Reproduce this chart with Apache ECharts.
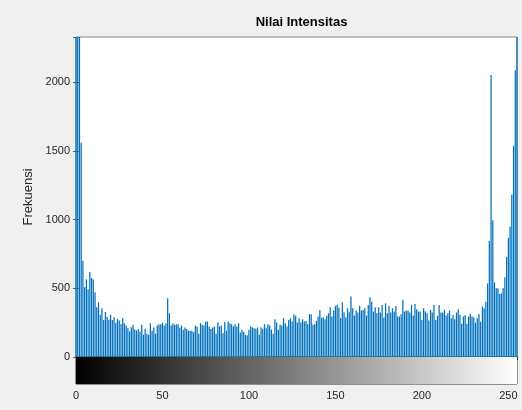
<!DOCTYPE html>
<html>
<head>
<meta charset="utf-8">
<script src="https://cdn.jsdelivr.net/npm/echarts@6/dist/echarts.min.js"></script>
<style>
html,body{margin:0;padding:0;background:#f0f0f0;}
#chart{width:522px;height:410px;}
</style>
</head>
<body>
<div id="chart"></div>
<script>
// Histogram counts per intensity level (0..255)
var counts0to19 = [2330, 2330, 2330, 1560, 700, 507, 565, 493, 618, 576, 565, 471, 362, 398, 308, 355, 270, 328, 293, 272];
var counts20to41 = [308, 270, 290, 250, 278, 266, 240, 283, 246, 230, 210, 186, 217, 234, 200, 193, 203, 186, 234, 162, 205, 169];
var counts42to84 = [162, 246, 191, 215, 169, 229, 239, 239, 251, 229, 246, 427, 319, 229, 246, 234, 239, 239, 215, 229, 198, 215, 203, 191, 191, 191, 181, 229, 222, 169, 246, 234, 229, 258, 258, 222, 203, 215, 222, 169, 251, 222, 229];
var counts85to126 = [174, 254, 191, 258, 245, 239, 222, 239, 222, 246, 179, 198, 184, 162, 157, 198, 222, 215, 210, 205, 215, 162, 215, 205, 239, 210, 239, 229, 200, 169, 275, 251, 198, 234, 229, 283, 246, 222, 270, 283, 258, 312];
var counts127to169 = [300, 251, 283, 251, 275, 258, 262, 241, 312, 312, 234, 239, 262, 295, 343, 287, 287, 275, 300, 319, 362, 295, 338, 372, 379, 360, 283, 398, 326, 287, 355, 326, 440, 355, 302, 338, 324, 374, 338, 343, 355, 302, 379];
var counts170to212 = [435, 403, 331, 362, 319, 362, 324, 379, 287, 391, 319, 372, 324, 355, 331, 372, 295, 295, 312, 415, 331, 338, 338, 324, 379, 302, 386, 348, 331, 331, 270, 355, 331, 319, 266, 343, 324, 379, 270, 300, 379, 324, 324];
var counts213to237 = [343, 302, 319, 338, 283, 307, 275, 324, 348, 307, 242, 295, 304, 242, 295, 314, 295, 287, 251, 283, 314, 256, 367, 355, 403];
var counts238to255 = [536, 845, 2053, 995, 543, 500, 500, 459, 464, 500, 580, 729, 869, 951, 1183, 1538, 2087, 2330];

var xTickValues = [0, 50, 100, 150, 200, 250];
var yTickValues = [0, 500, 1000, 1500, 2000];
var titleText = 'Nilai Intensitas';
var yAxisTitle = 'Frekuensi';
var grayRange = [0, 255];

var counts = [].concat(counts0to19, counts20to41, counts42to84, counts85to126,
  counts127to169, counts170to212, counts213to237, counts238to255);
var histData = counts.map(function (v, i) { return [i, v]; });

var textColor = '#262626';
var chart = echarts.init(document.getElementById('chart'), null, {renderer: 'canvas'});
var option = {
  animation: false,
  backgroundColor: '#f0f0f0',
  title: {
    text: titleText,
    left: 296.5,
    textAlign: 'center',
    top: 11,
    textStyle: {fontFamily: 'Liberation Sans, Arial, sans-serif', fontSize: 13, fontWeight: 'bold', color: '#000'}
  },
  grid: [
    {left: 76, top: 37, width: 441, height: 320, show: true, backgroundColor: '#fff', borderColor: '#8a8a8a', borderWidth: 1},
    {left: 76, top: 357, width: 441, height: 27, show: true, backgroundColor: 'transparent', borderColor: '#303030', borderWidth: 1}
  ],
  xAxis: [
    {type: 'value', gridIndex: 0, min: 0, max: 255, interval: 50, position: 'bottom',
      axisLine: {show: false}, axisTick: {show: false}, axisLabel: {show: false}, splitLine: {show: false}},
    {type: 'value', gridIndex: 1, min: 0, max: 255, interval: 50, position: 'bottom',
      axisLine: {show: false},
      axisTick: {show: true, inside: true, length: 3, lineStyle: {color: '#303030'}},
      axisLabel: {show: true, margin: 6, showMaxLabel: false, color: textColor, fontSize: 11,
        fontFamily: 'Liberation Sans, Arial, sans-serif',
        formatter: function (v) { return xTickValues.indexOf(v) >= 0 ? String(v) : ''; }},
      splitLine: {show: false}},
    {type: 'value', gridIndex: 0, min: 0, max: 255, interval: 50, position: 'top',
      axisLine: {show: false},
      axisTick: {show: true, inside: true, length: 3, lineStyle: {color: '#555'}},
      axisLabel: {show: false}, splitLine: {show: false}},
    {type: 'value', gridIndex: 1, min: 0, max: 255, interval: 50, position: 'top',
      axisLine: {show: false},
      axisTick: {show: true, inside: true, length: 3, lineStyle: {color: '#303030'}},
      axisLabel: {show: false}, splitLine: {show: false}}
  ],
  yAxis: [
    {type: 'value', gridIndex: 0, min: 0, max: 2330, interval: 500, position: 'left',
      name: yAxisTitle, nameLocation: 'middle', nameGap: 40, nameRotate: 90,
      nameTextStyle: {color: textColor, fontSize: 13, fontFamily: 'Liberation Sans, Arial, sans-serif'},
      axisLine: {show: false},
      axisTick: {show: true, inside: true, length: 3, lineStyle: {color: '#555'}},
      axisLabel: {show: true, margin: 6, showMaxLabel: false, color: textColor, fontSize: 11,
        fontFamily: 'Liberation Sans, Arial, sans-serif',
        formatter: function (v) { return yTickValues.indexOf(v) >= 0 ? String(v) : ''; }},
      splitLine: {show: false}},
    {type: 'value', gridIndex: 0, min: 0, max: 2330, interval: 500, position: 'right',
      axisLine: {show: false},
      axisTick: {show: true, inside: true, length: 3, lineStyle: {color: '#555'}},
      axisLabel: {show: false}, splitLine: {show: false}},
    {type: 'value', gridIndex: 1, min: 0, max: 1, position: 'left',
      axisLine: {show: false}, axisTick: {show: false}, axisLabel: {show: false}, splitLine: {show: false}}
  ],
  series: [
    {type: 'bar', xAxisIndex: 0, yAxisIndex: 0, data: histData, barWidth: 1.25,
      itemStyle: {color: '#0072BD'}, z: 3},
    {type: 'custom', xAxisIndex: 1, yAxisIndex: 2, data: [grayRange],
      renderItem: function (params, api) {
        var p0 = api.coord([api.value(0), 1]);
        var p1 = api.coord([api.value(1), 0]);
        return {
          type: 'rect',
          shape: {x: p0[0], y: p0[1], width: p1[0] - p0[0], height: p1[1] - p0[1]},
          style: {fill: new echarts.graphic.LinearGradient(0, 0, 1, 0, [
            {offset: 0, color: '#000'}, {offset: 1, color: '#fff'}])}
        };
      }, z: 1}
  ]
};
chart.setOption(option);
</script>
</body>
</html>
